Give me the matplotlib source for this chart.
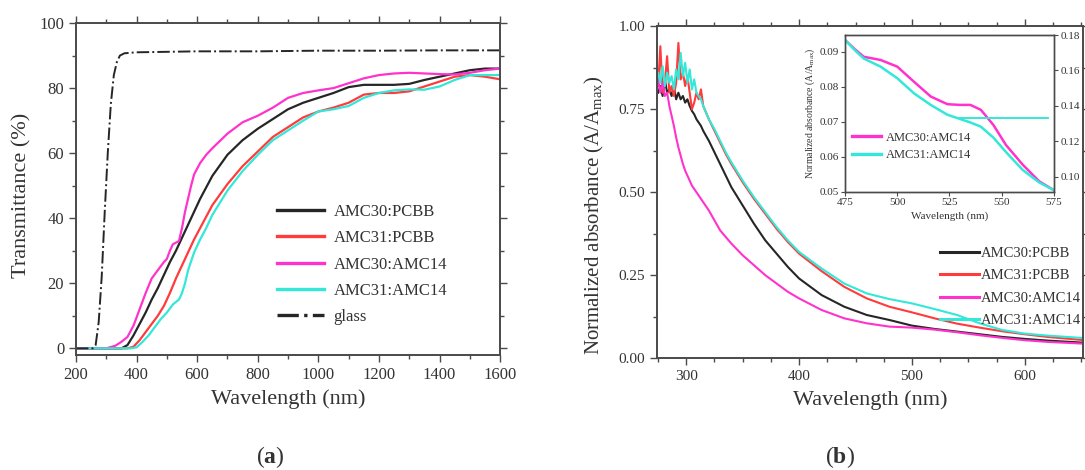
import matplotlib
matplotlib.use('Agg')
import matplotlib.pyplot as plt
from matplotlib.ticker import MultipleLocator, FormatStrFormatter

plt.rcParams['font.family'] = ['Liberation Serif', 'DejaVu Serif']
plt.rcParams['mathtext.fontset'] = 'custom'
plt.rcParams['mathtext.rm'] = 'Liberation Serif'
plt.rcParams['mathtext.it'] = 'Liberation Serif:italic'
plt.rcParams['mathtext.bf'] = 'Liberation Serif:bold'

# ---------- panel (a): transmittance ----------
glass_wl = [200, 255, 265, 275, 285, 295, 305, 315, 325, 335, 345, 360, 400, 600, 800, 1000, 1200, 1400, 1600]
glass_t = [0, 0, 1, 8, 22, 42, 60, 75, 84, 88, 90, 90.7, 91, 91.3, 91.3, 91.5, 91.5, 91.6, 91.6]

a30p_wl = [200, 350, 370, 390, 410, 430, 450, 470, 490, 510, 530, 550, 570, 590, 610, 630, 650, 700, 750, 800,
           850, 900, 950, 1000, 1050, 1100, 1150, 1200, 1250, 1300, 1350, 1400, 1450, 1500, 1550, 1600]
a30p_t = [0, 0, 1, 4, 7.5, 11, 15, 18.5, 22.5, 26.5, 30, 34, 38, 42, 46, 49.5, 53, 59.5, 64, 67.5,
          70.5, 73.5, 75.5, 77, 78.5, 80.3, 81, 81, 81, 81.3, 82.5, 83.5, 84.5, 85.5, 86, 86]

a31p_wl = [200, 370, 390, 410, 430, 450, 470, 490, 510, 530, 550, 570, 590, 610, 630, 650, 700, 750, 800,
           850, 900, 950, 1000, 1050, 1100, 1150, 1200, 1250, 1300, 1350, 1400, 1450, 1500, 1550, 1600]
a31p_t = [0, 0, 0.5, 2.5, 5, 7.5, 10, 13, 17, 21.5, 25.5, 29.5, 33.5, 37, 40.5, 44, 50.5, 56, 60.5,
          65, 68, 71, 72.8, 74, 75.5, 78, 78.5, 78.5, 79, 80.5, 82, 83.5, 84, 83.5, 82.7]

a30a_wl = [200, 300, 330, 350, 370, 390, 410, 430, 450, 470, 490, 500, 510, 520, 540, 550, 560, 570, 580, 590,
           610, 630, 650, 700, 750, 800, 850, 900, 950, 1000, 1050, 1100, 1150, 1200, 1250, 1300, 1350, 1400,
           1450, 1500, 1550, 1600]
a30a_t = [0, 0, 0.8, 2, 3.5, 7, 12, 17, 21.5, 24, 26.5, 27.5, 30, 32, 33, 37, 42, 46, 50, 53.5,
          57, 59.5, 61.5, 66, 69.5, 71.5, 74, 77, 78.5, 79.3, 80, 81.5, 83, 84, 84.5, 84.7, 84.5, 84.3,
          84.2, 84.7, 85.5, 86]

a31a_wl = [200, 380, 400, 420, 440, 460, 480, 500, 520, 540, 550, 560, 570, 590, 610, 630, 650, 700, 750, 800,
           850, 900, 950, 1000, 1050, 1100, 1150, 1200, 1250, 1300, 1350, 1400, 1450, 1500, 1550, 1600]
a31a_t = [0, 0, 0.3, 2, 4, 6.5, 9, 11, 13.5, 15, 17, 20, 24, 29.5, 33.5, 37, 41, 48.5, 54.5, 59.5,
          64, 67, 70, 72.8, 73.5, 74.5, 77, 78.5, 79.3, 79.6, 79.5, 80.5, 82.5, 84, 84, 84]

# ---------- panel (b): normalized absorbance ----------
wl_b = [275, 277, 279, 281, 283, 285, 287, 289, 291, 293, 295, 297, 299, 301, 303, 305, 307, 309, 311, 313,
        315, 320, 325, 330, 335, 340, 350, 360, 370, 380, 390, 400, 420, 440, 460, 480, 500, 520, 540, 560,
        580, 600, 620, 650]
abs_30p = [0.80, 0.82, 0.79, 0.84, 0.80, 0.81, 0.79, 0.82, 0.78, 0.80, 0.78, 0.79, 0.77, 0.78, 0.76, 0.745,
           0.735, 0.72, 0.71, 0.70, 0.685, 0.655, 0.62, 0.585, 0.55, 0.515, 0.46, 0.405, 0.355, 0.315, 0.275,
           0.24, 0.19, 0.155, 0.13, 0.115, 0.098, 0.088, 0.08, 0.072, 0.064, 0.058, 0.053, 0.047]
abs_31p = [0.82, 0.94, 0.80, 0.83, 0.91, 0.80, 0.82, 0.79, 0.83, 0.95, 0.84, 0.86, 0.82, 0.85, 0.80, 0.75,
           0.77, 0.80, 0.78, 0.81, 0.76, 0.72, 0.685, 0.65, 0.615, 0.585, 0.53, 0.48, 0.435, 0.39, 0.35,
           0.315, 0.262, 0.215, 0.18, 0.155, 0.138, 0.12, 0.104, 0.092, 0.081, 0.072, 0.064, 0.055]
abs_30a = [0.84, 0.80, 0.83, 0.79, 0.80, 0.76, 0.73, 0.70, 0.665, 0.635, 0.61, 0.585, 0.565, 0.55, 0.535,
           0.52, 0.51, 0.50, 0.49, 0.48, 0.47, 0.445, 0.415, 0.385, 0.365, 0.345, 0.31, 0.28, 0.25, 0.225,
           0.20, 0.18, 0.145, 0.12, 0.105, 0.095, 0.092, 0.086, 0.078, 0.069, 0.061, 0.054, 0.049, 0.044]
abs_31a = [0.86, 0.83, 0.88, 0.82, 0.86, 0.83, 0.85, 0.81, 0.87, 0.84, 0.92, 0.85, 0.89, 0.83, 0.87, 0.81,
           0.84, 0.80, 0.79, 0.78, 0.76, 0.72, 0.69, 0.655, 0.62, 0.59, 0.535, 0.485, 0.44, 0.395, 0.355,
           0.32, 0.27, 0.225, 0.195, 0.178, 0.165, 0.148, 0.13, 0.105, 0.085, 0.074, 0.068, 0.061]

# inset (475-575 nm)
ins_wl = [475, 480, 484, 492, 500, 508, 516, 524, 530, 535, 540, 546, 552, 560, 568, 575]
ins_30a = [0.0933, 0.0905, 0.0885, 0.0876, 0.0857, 0.0814, 0.0772, 0.0750, 0.0748, 0.0748, 0.0734, 0.0691,
           0.0634, 0.0578, 0.0530, 0.0505]
ins_31a = [0.0933, 0.0902, 0.0880, 0.0857, 0.0824, 0.0781, 0.0748, 0.0720, 0.0708, 0.0698, 0.0686, 0.0655,
           0.0614, 0.0563, 0.0527, 0.0505]
flat_wl = [530, 572]
flat_val = [0.0712, 0.0712]

c_black = '#262626'
c_red = '#ff3b3b'
c_mag = '#ff33cc'
c_cyan = '#33e8d8'
frame_c = '#4a4a4a'
txt_c = '#333333'


def style_axes(ax, fs):
    for s in ax.spines.values():
        s.set_color(frame_c)
        s.set_linewidth(1.4)
    ax.tick_params(which='both', direction='out', top=True, right=True, colors=frame_c,
                   labelcolor=txt_c, labelsize=fs, width=1.0)
    ax.tick_params(which='major', length=5)
    ax.tick_params(which='minor', length=3)


fig = plt.figure(figsize=(10.85, 4.70), dpi=100)

# panel (a)
ax1 = fig.add_axes([0.070, 0.245, 0.391, 0.706])
ax1.plot(a30p_wl, a30p_t, color=c_black, lw=1.6, label='AMC30:PCBB')
ax1.plot(a31p_wl, a31p_t, color=c_red, lw=1.6, label='AMC31:PCBB')
ax1.plot(a30a_wl, a30a_t, color=c_mag, lw=1.6, label='AMC30:AMC14')
ax1.plot(a31a_wl, a31a_t, color=c_cyan, lw=1.6, label='AMC31:AMC14')
ax1.plot(glass_wl, glass_t, color=c_black, lw=1.4, ls='-.', label='glass')
ax1.set_xlim(200, 1600)
ax1.set_ylim(-2, 100)
ax1.xaxis.set_major_locator(MultipleLocator(200))
ax1.xaxis.set_minor_locator(MultipleLocator(100))
ax1.yaxis.set_major_locator(MultipleLocator(20))
ax1.yaxis.set_minor_locator(MultipleLocator(10))
style_axes(ax1, 12)
ax1.set_xlabel('Wavelength (nm)', fontsize=16, color=txt_c, labelpad=5)
ax1.set_ylabel('Transmittance (%)', fontsize=16, color=txt_c)
ax1.yaxis.set_label_coords(-0.105, 0.48)
leg1 = ax1.legend(loc='upper left', bbox_to_anchor=(0.474, 0.455), frameon=False, fontsize=12,
                  handlelength=2.8, handletextpad=0.6, labelspacing=0.62, borderpad=0, borderaxespad=0)
for t in leg1.get_texts():
    t.set_color(txt_c)
for h in leg1.get_lines():
    h.set_linewidth(2.4)

# panel (b)
ax2 = fig.add_axes([0.6055, 0.238, 0.393, 0.706])
ax2.plot(wl_b, abs_30p, color=c_black, lw=1.5, label='AMC30:PCBB')
ax2.plot(wl_b, abs_31p, color=c_red, lw=1.5, label='AMC31:PCBB')
ax2.plot(wl_b, abs_30a, color=c_mag, lw=1.5, label='AMC30:AMC14')
ax2.plot(wl_b, abs_31a, color=c_cyan, lw=1.5, label='AMC31:AMC14')
ax2.set_xlim(274, 652)
ax2.set_ylim(0, 1.0)
ax2.xaxis.set_major_locator(MultipleLocator(100))
ax2.xaxis.set_minor_locator(MultipleLocator(25))
ax2.yaxis.set_major_locator(MultipleLocator(0.25))
ax2.yaxis.set_minor_locator(MultipleLocator(0.125))
ax2.yaxis.set_major_formatter(FormatStrFormatter('%.2f'))
style_axes(ax2, 11)
ax2.set_xlabel('Wavelength (nm)', fontsize=16, color=txt_c, labelpad=5)
ax2.set_ylabel(r'Normalized absorbance (A/A$_{\mathrm{max}}$)', fontsize=15, color=txt_c)
ax2.yaxis.set_label_coords(-0.12, 0.43)
leg2 = ax2.legend(loc='upper left', bbox_to_anchor=(0.664, 0.335), frameon=False, fontsize=10.5,
                  handlelength=2.7, handletextpad=0.1, labelspacing=0.62, borderpad=0, borderaxespad=0)
for t in leg2.get_texts():
    t.set_color(txt_c)
for h in leg2.get_lines():
    h.set_linewidth(2.2)

# inset
ax3 = fig.add_axes([0.7788, 0.5915, 0.1926, 0.334])
ax3.plot(ins_wl, ins_30a, color=c_mag, lw=1.8, label='AMC30:AMC14')
ax3.plot(ins_wl, ins_31a, color=c_cyan, lw=1.8, label='AMC31:AMC14')
ax3.plot(flat_wl, flat_val, color=c_cyan, lw=1.4)
ax3.set_xlim(475, 575)
ax3.set_ylim(0.05, 0.0947)
ax3.xaxis.set_major_locator(MultipleLocator(25))
ax3.yaxis.set_major_locator(MultipleLocator(0.01))
ax3.yaxis.set_major_formatter(FormatStrFormatter('%.2f'))
for s in ax3.spines.values():
    s.set_color(frame_c)
    s.set_linewidth(1.0)
ax3.tick_params(direction='out', top=False, right=False, colors=frame_c, labelcolor=txt_c,
                labelsize=8, length=3, width=0.8, pad=1.5)
ax3.set_xlabel('Wavelength (nm)', fontsize=8, color=txt_c, labelpad=3)
ax3.set_ylabel(r'Normalized absorbance (A/A$_{\mathrm{max}}$)', fontsize=7, color=txt_c, labelpad=2)
ax3r = ax3.twinx()
ax3r.set_ylim(0.0914, 0.18)
ax3r.yaxis.set_major_locator(MultipleLocator(0.02))
ax3r.yaxis.set_major_formatter(FormatStrFormatter('%.2f'))
ax3r.tick_params(direction='out', colors=frame_c, labelcolor=txt_c, labelsize=8, length=3,
                 width=0.8, pad=1.5)
for s in ax3r.spines.values():
    s.set_color(frame_c)
    s.set_linewidth(1.0)
leg3 = ax3.legend(loc='upper left', bbox_to_anchor=(0.033, 0.385), frameon=False, fontsize=9,
                  handlelength=2.3, handletextpad=0.4, labelspacing=0.45, borderpad=0, borderaxespad=0)
for t in leg3.get_texts():
    t.set_color(txt_c)
for h in leg3.get_lines():
    h.set_linewidth(2.4)

fig.text(0.249, 0.028, r'($\mathbf{a}$)', fontsize=17, color=txt_c, ha='center', va='center')
fig.text(0.774, 0.028, r'($\mathbf{b}$)', fontsize=17, color=txt_c, ha='center', va='center')

fig.savefig('out.png', dpi=100)
